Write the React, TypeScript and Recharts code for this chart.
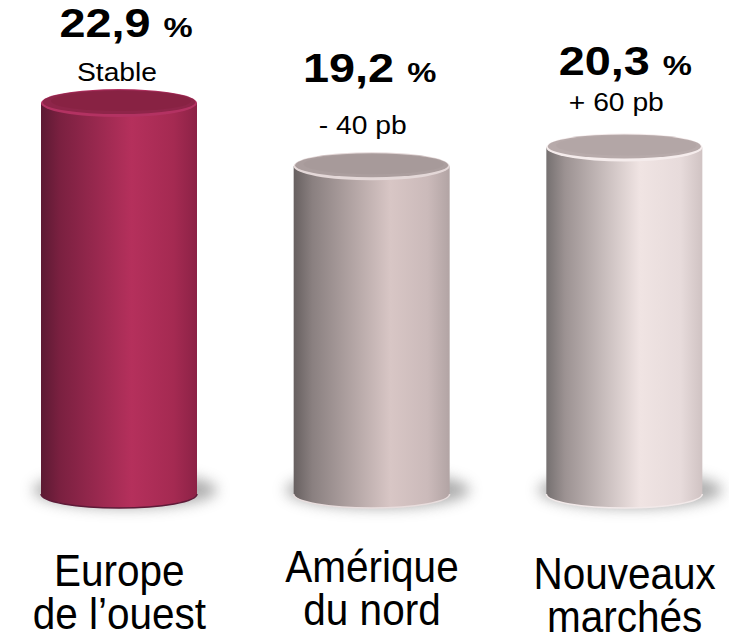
import { BarChart, Bar, XAxis, YAxis } from 'recharts';

const categories = ['Europe\nde l’ouest', 'Amérique\ndu nord', 'Nouveaux\nmarchés'];
const margins = [22.9, 19.2, 20.3];
const changes = ['Stable', '- 40 pb', '+ 60 pb'];

const data = categories.map((name, i) => ({ name, value: margins[i], change: changes[i] }));

const FONT = '"Liberation Sans", Arial, sans-serif';
const RY = 14;

// per-bar label placement, relative to the top of the cylinder
const LABEL_LAYOUT = [
  { valueDy: -52, valueDx: 7, subDy: -8, subDx: -2 },
  { valueDy: -70, valueDx: -2, subDy: -18, subDx: -9 },
  { valueDy: -58, valueDx: 1, subDy: -22, subDx: -8 },
];
const LABEL_DY = [90, 86, 93];

const BAR_STYLES = [
  {
    body: [['0', '#5c1a33'], ['0.12', '#7a2040'], ['0.58', '#b5305c'], ['0.85', '#a52a52'], ['1', '#8c2246']],
    top: '#8e2549', inner: '#84223f', rim: '#b33262', edge: '#5e1a38',
  },
  {
    body: [['0', '#676060'], ['0.12', '#8a8080'], ['0.62', '#d8c6c5'], ['0.86', '#cbbaba'], ['1', '#b2a4a4']],
    top: '#ab9e9e', inner: '#a59898', rim: '#e4d8d8', edge: '#e8dddd',
  },
  {
    body: [['0', '#757070'], ['0.12', '#9c9292'], ['0.6', '#f0e4e3'], ['0.86', '#e7dbdb'], ['1', '#d0c3c3']],
    top: '#b7aaaa', inner: '#b0a3a3', rim: '#f5ecec', edge: '#f2e9e9',
  },
];

function Cylinder(props: any) {
  const { x, y, width, height, index } = props;
  const s = BAR_STYLES[index];
  const lay = LABEL_LAYOUT[index];
  const rx = width / 2;
  const cx = x + rx;
  const b = y + height;
  const gid = `body-${index}`;
  const fid = `shadow-${index}`;
  const pct = margins[index].toFixed(1).replace('.', ',');
  return (
    <g>
      <defs>
        <linearGradient id={gid} x1="0" y1="0" x2="1" y2="0">
          {s.body.map(([o, c]) => (
            <stop key={o} offset={o} stopColor={c} />
          ))}
        </linearGradient>
        <filter id={fid} x="-50%" y="-100%" width="200%" height="300%">
          <feGaussianBlur stdDeviation="7" />
        </filter>
      </defs>
      <ellipse cx={cx + 6} cy={b - 4} rx={rx + 14} ry={18} fill="#8a8a8a" opacity={0.7} filter={`url(#${fid})`} />
      <path
        d={`M${x},${y} L${x},${b} A${rx},${RY} 0 0 0 ${x + width},${b} L${x + width},${y} Z`}
        fill={`url(#${gid})`}
      />
      <path d={`M${x},${b} A${rx},${RY} 0 0 0 ${x + width},${b}`} fill="none" stroke={s.edge} strokeWidth={1.5} />
      <ellipse cx={cx} cy={y} rx={rx} ry={RY} fill={s.rim} />
      <ellipse cx={cx} cy={y - 1} rx={rx - 1.5} ry={RY - 2} fill={s.top} />
      <ellipse cx={cx + 2} cy={y - 2} rx={rx - 8} ry={RY - 4} fill={s.inner} opacity={0.6} />
      <text
        transform={`translate(${cx + lay.valueDx},${y - RY + lay.valueDy}) scale(1.17,1)`}
        textAnchor="middle"
        fontFamily={FONT}
        fontWeight="bold"
        fill="#000"
      >
        <tspan fontSize={40}>{pct} </tspan>
        <tspan fontSize={28}>%</tspan>
      </text>
      <text
        transform={`translate(${cx + lay.subDx},${y - RY + lay.subDy}) scale(1.13,1)`}
        textAnchor="middle"
        fontFamily={FONT}
        fontSize={25}
        fill="#000"
      >
        {changes[index]}
      </text>
    </g>
  );
}

function CategoryTick(props: any) {
  const { x, y, payload, index } = props;
  const lines = String(payload.value).split('\n');
  const base = y + LABEL_DY[index ?? 0];
  return (
    <text
      transform={`translate(${x},${base}) scale(0.9,1)`}
      textAnchor="middle"
      fontFamily={FONT}
      fontSize={45}
      fill="#000"
    >
      {lines.map((line, i) => (
        <tspan key={i} x={0} dy={i === 0 ? 0 : 43}>
          {line}
        </tspan>
      ))}
    </text>
  );
}

export default function App() {
  return (
    <div style={{ position: 'absolute', left: 0, top: 0, width: 729, height: 640, overflow: 'hidden', background: '#fff' }}>
      <div style={{ marginLeft: -7 }}>
        <BarChart width={758} height={640} data={data} margin={{ top: 16, right: 0, bottom: 0, left: 0 }} barSize={156}>
          <XAxis
            dataKey="name"
            height={146}
            axisLine={false}
            tickLine={false}
            tickSize={0}
            interval={0}
            tick={<CategoryTick />}
          />
          <YAxis hide domain={[0, 28]} />
          <Bar dataKey="value" shape={<Cylinder />} isAnimationActive={false} />
        </BarChart>
      </div>
    </div>
  );
}
